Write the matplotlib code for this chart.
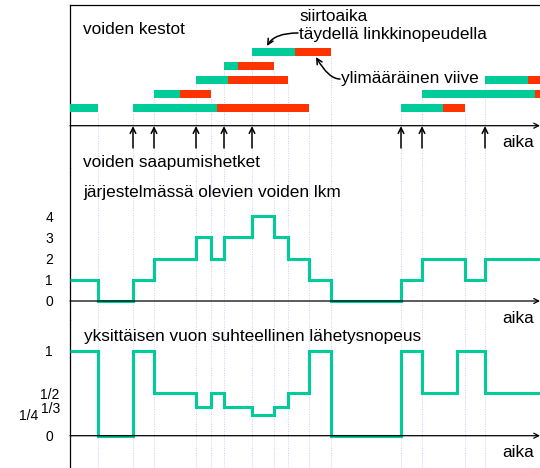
import numpy as np
import matplotlib
matplotlib.use('Agg')
import matplotlib.pyplot as plt

plt.rcParams['font.family'] = ['Liberation Sans', 'DejaVu Sans']

GREEN = '#00cc99'
RED = '#ff3300'
GRID = '#ccccf4'

# flows: arrival, end of transfer at full link rate, departure, row in the top panel
flow_start = [0, 63, 84, 126, 154, 182, 331, 352, 415]
flow_green_end = [28, 147, 110, 158, 168, 225, 373, 465, 458]
flow_end = [28, 239, 141, 218, 204, 261, 395, 470, 470]
flow_row = [0, 0, 1, 2, 3, 4, 0, 1, 2]

arrivals = [63, 84, 126, 154, 182, 331, 352, 415]

# times where the number of flows changes, and the row of the flow involved
event_times = [28, 63, 84, 126, 141, 154, 182, 204, 218, 239, 261, 331, 352, 395, 415]
event_rows = [0, 0, 1, 2, 1, 3, 4, 3, 2, 0, 4, 0, 1, 0, 2]

count_edges = [0, 28, 63, 84, 126, 141, 154, 182, 204, 218, 239, 261, 331, 352, 395, 415, 470]
count_values = [1, 0, 1, 2, 3, 2, 3, 4, 3, 2, 1, 0, 1, 2, 1, 2]
count_ticks = [0, 1, 2, 3, 4]

rate_edges = [0, 28, 63, 84, 126, 141, 154, 182, 204, 218, 239, 261, 331, 352, 387, 415, 470]
rate_values = [1, 0, 1, 1/2, 1/3, 1/2, 1/3, 1/4, 1/3, 1/2, 1, 0, 1, 1/2, 1, 1/2]
rate_ticks = [0, 1/4, 1/3, 1/2, 1]
rate_tick_labels = ['0', '1/4', '1/3', '1/2', '1']
rate_tick_x = [49, 29, 50.5, 50, 49]

W, H = 540, 468
fig = plt.figure(figsize=(W / 100, H / 100), dpi=100)


def box(top, bottom):
    return [70 / W, 1 - bottom / H, 470 / W, (bottom - top) / H]


def fig_text(x, y, s, **kw):
    fig.text(x / W, 1 - y / H, s, fontsize=12.4, va='baseline', **kw)


ax_top = fig.add_axes(box(5, 168))
ax_mid = fig.add_axes(box(168, 320))
ax_bot = fig.add_axes(box(320, 468))

ax_top.set_ylim((108 - 168) / 14, (108 - 5) / 14)
ax_mid.set_ylim((301 - 320) / 21.25, (301 - 168) / 21.25)
ax_bot.set_ylim((435.7 - 468) / 84.7, (435.7 - 320) / 84.7)

for ax in (ax_top, ax_mid, ax_bot):
    ax.set_xlim(0, 470)
    ax.set_xticks([])
    ax.set_yticks([])
    ax.patch.set_alpha(0)
    for side in ('top', 'right', 'bottom'):
        ax.spines[side].set_visible(False)
    ax.spines['left'].set_linewidth(0.9)
ax_top.spines['top'].set_visible(True)
ax_top.spines['top'].set_linewidth(0.9)

axis_arrow = dict(arrowstyle='->,head_length=0.35,head_width=0.18', lw=0.9,
                  color='black', shrinkA=0, shrinkB=0)

# top panel: flow durations
start = np.array(flow_start)
gend = np.array(flow_green_end)
end = np.array(flow_end)
rows = np.array(flow_row)
ax_top.barh(rows, gend - start, left=start, height=0.57, color=GREEN, zorder=3)
ax_top.barh(rows, end - gend, left=gend, height=0.57, color=RED, zorder=3)

y0 = ax_top.get_ylim()[0]
ax_top.vlines(event_times, y0, np.array(event_rows) - 0.285, colors=GRID,
              linestyles=(0, (1, 1.5)), lw=0.7, zorder=1)
for ax in (ax_mid, ax_bot):
    lo, hi = ax.get_ylim()
    ax.vlines(event_times, lo, hi, colors=GRID, linestyles=(0, (1, 1.5)), lw=0.7, zorder=1)

axis_y = (108 - 125.7) / 14
ax_top.annotate('', xy=(470, axis_y), xytext=(0, axis_y), arrowprops=axis_arrow)
for t in arrivals:
    ax_top.annotate('', xy=(t, axis_y - 0.03), xytext=(t, (108 - 148) / 14),
                    arrowprops=dict(arrowstyle='->,head_length=0.4,head_width=0.2',
                                    lw=1.1, color='black', shrinkA=0, shrinkB=0))

ax_top.annotate('', xy=(197, 4.43), xytext=(228, 5.36),
                arrowprops=dict(arrowstyle='->,head_length=0.4,head_width=0.2', lw=1.1,
                                color='black', shrinkA=0, shrinkB=0,
                                connectionstyle='angle3,angleA=180,angleB=60'))
ax_top.annotate('', xy=(246, 3.64), xytext=(270, 2.07),
                arrowprops=dict(arrowstyle='->,head_length=0.4,head_width=0.2', lw=1.1,
                                color='black', shrinkA=0, shrinkB=0,
                                connectionstyle='angle3,angleA=0,angleB=120'))

# middle panel: number of flows in the system
ax_mid.stairs(count_values, count_edges, baseline=None, color=GREEN, lw=2.2, zorder=3)
ax_mid.annotate('', xy=(470, 0), xytext=(0, 0), arrowprops=axis_arrow)
for v in count_ticks:
    ax_mid.text((49 - 70) / 470, v, str(v), transform=ax_mid.get_yaxis_transform(),
                ha='center', va='center_baseline', fontsize=10)

# bottom panel: relative sending rate of one flow
ax_bot.stairs(rate_values, rate_edges, baseline=None, color=GREEN, lw=2.2, zorder=3)
ax_bot.annotate('', xy=(470, 0), xytext=(0, 0), arrowprops=axis_arrow)
for v, lab, x in zip(rate_ticks, rate_tick_labels, rate_tick_x):
    ax_bot.text((x - 70) / 470, v, lab, transform=ax_bot.get_yaxis_transform(),
                ha='center', va='center_baseline', fontsize=10)

fig_text(83, 34.3, 'voiden kestot')
fig_text(299, 20.7, 'siirtoaika')
fig_text(299, 39.3, 'täydellä linkkinopeudella')
fig_text(341, 83.3, 'ylimääräinen viive')
fig_text(502, 146.7, 'aika')
fig_text(83, 166.7, 'voiden saapumishetket')
fig_text(83, 197.3, 'järjestelmässä olevien voiden lkm')
fig_text(502, 323, 'aika')
fig_text(84, 340.5, 'yksittäisen vuon suhteellinen lähetysnopeus')
fig_text(502, 457, 'aika')

fig.savefig('out.png', dpi=100)
